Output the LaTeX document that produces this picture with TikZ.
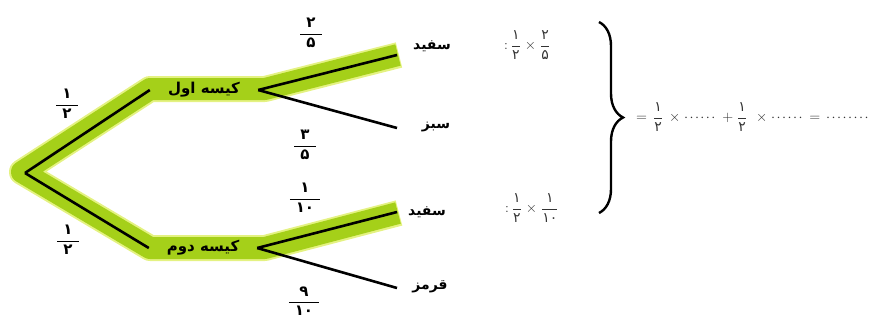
\documentclass[tikz,border=0pt]{standalone}
\usepackage{fontspec}
\usetikzlibrary{decorations.pathreplacing}
\TeXXeTstate=1
\newfontfamily\arabicfont[Script=Arabic]{DejaVu Sans}
\newfontfamily\arabicbold[Script=Arabic]{DejaVu Sans Bold}
\definecolor{bandgreen}{RGB}{165,208,25}
\definecolor{bandglow}{RGB}{228,242,130}
\newcommand{\pd}[1]{\hbox{\arabicfont #1}}
\newcommand{\pf}[2]{$\displaystyle\frac{\pd{#1}}{\pd{#2}}$}
\newcommand{\wpd}[1]{\hbox{\kern6pt\arabicbold #1\kern6pt}}
\newcommand{\wf}[2]{$\displaystyle\frac{\wpd{#1}}{\wpd{#2}}$}
\newcommand{\dotrun}[1]{\hbox to #1{\leaders\hbox to 5.5pt{\hss$\cdot$\hss}\hfill}}
\tikzset{
  band/.style={line width=22pt, color=bandgreen, line join=round},
  glow/.style={line width=26pt, color=bandglow, line join=round},
  branch/.style={line width=2.6pt, black},
  bag/.style={inner sep=0pt, minimum width=108pt, font=\arabicbold\fontsize{15}{17}\selectfont},
  word/.style={inner sep=0pt, font=\arabicbold\fontsize{14}{16}\selectfont},
  frc/.style={inner sep=0pt, font=\fontsize{15}{17}\selectfont},
  eq/.style={inner sep=0pt, font=\fontsize{14}{16}\selectfont, text=black!80},
}
\begin{document}
\begin{tikzpicture}[x=1pt,y=-1pt]
\useasboundingbox (0,0) rectangle (880,325);
% green bands
\draw[glow] (399,55) -- (265,89) -- (150,89) -- (22,172) -- (150,248) -- (265,248) -- (399,213);
\draw[band] (398,55) -- (265,89) -- (150,89) -- (22,172) -- (150,248) -- (265,248) -- (398,213);
% nodes
\coordinate (root) at (25,173);
\node[bag] (bag1) at (204,90) {\beginR کیسه اول\endR};
\node[bag] (bag2) at (203,248) {\beginR کیسه دوم\endR};
\coordinate (l1) at (397,55);
\coordinate (l2) at (397,128);
\coordinate (l3) at (397,212);
\coordinate (l4) at (397,288);
% branches
\draw[branch] (root) -- (bag1.west);
\draw[branch] (root) -- (bag2.west);
\draw[branch] (bag1.east) -- (l1);
\draw[branch] (bag1.east) -- (l2);
\draw[branch] (bag2.east) -- (l3);
\draw[branch] (bag2.east) -- (l4);
% leaf labels
\node[word] (w1) at (432,46) {\beginR سفید\endR};
\node[word] (w2) at (436,127) {\beginR سبز\endR};
\node[word] (w3) at (427,212) {\beginR سفید\endR};
\node[word] (w4) at (430,287) {\beginR قرمز\endR};
% probabilities
\node[frc] (p1) at (67,104) {\wf{۱}{۲}};
\node[frc] (p2) at (68,240) {\wf{۱}{۲}};
\node[frc] (p3) at (311,33) {\wf{۲}{۵}};
\node[frc] (p4) at (305,145) {\wf{۳}{۵}};
\node[frc] (p5) at (305,198) {\wf{۱}{۱۰}};
\node[frc] (p6) at (304,301) {\wf{۹}{۱۰}};
% products
\node[eq, anchor=west] (e1) at (504,45) {:\hspace{3pt}\pf{۱}{۲}\hspace{4pt}$\times$\hspace{4pt}\pf{۲}{۵}};
\node[eq, anchor=west] (e2) at (505,208) {:\hspace{3pt}\pf{۱}{۲}\hspace{4pt}$\times$\hspace{4pt}\pf{۱}{۱۰}};
\draw[line width=2.4pt, decorate, decoration={brace, amplitude=24pt, aspect=0.5}] (599,22) -- (599,213);
\node[eq, anchor=west] (sum) at (636,117) {$=$\hspace{6pt}\pf{۱}{۲}\hspace{6pt}$\times$\hspace{3pt}\dotrun{36pt}\hspace{3pt}$+$\hspace{4pt}\pf{۱}{۲}\hspace{9pt}$\times$\hspace{3pt}\dotrun{36pt}\hspace{3pt}$=$\hspace{5pt}\dotrun{44pt}};
\end{tikzpicture}
\end{document}
